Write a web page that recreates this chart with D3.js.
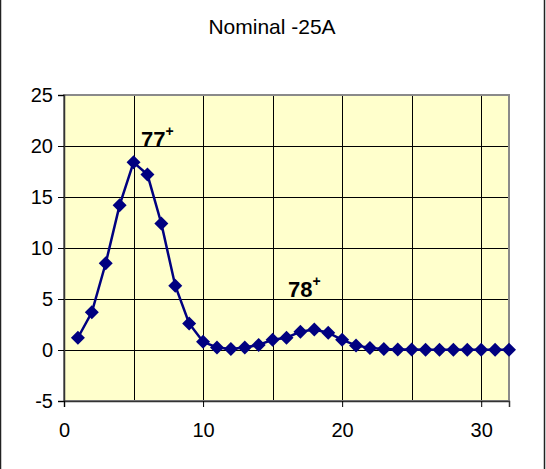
<!DOCTYPE html>
<html>
<head>
<meta charset="utf-8">
<script src="https://cdn.jsdelivr.net/npm/d3@7/dist/d3.min.js"></script>
<style>
  html, body { margin: 0; padding: 0; background: #fff; }
  svg { display: block; font-family: Arial, "Liberation Sans", sans-serif; }
</style>
</head>
<body>
<svg id="chart" width="546" height="469"></svg>
<script>
// Charge-state distribution at nominal -25A
const chargeStates = [1, 2, 3, 4, 5, 6, 7, 8, 9, 10, 11, 12, 13, 14, 15, 16,
                      17, 18, 19, 20, 21, 22, 23, 24, 25, 26, 27, 28, 29, 30, 31, 32];
const yields = [1.2, 3.7, 8.5, 14.2, 18.4, 17.2, 12.4, 6.3, 2.6, 0.8, 0.25, 0.1, 0.25, 0.5, 1.0, 1.2,
                1.8, 2.0, 1.7, 1.0, 0.45, 0.2, 0.1, 0.05, 0.05, 0.03, 0.03, 0.03, 0.03, 0.03, 0.03, 0.03];
const xTicks = [0, 10, 20, 30];
const yTicks = [-5, 0, 5, 10, 15, 20, 25];
const xGrid = [5, 10, 15, 20, 25, 30];
const peakLabels = ["77", "78"];
const titleText = "Nominal -25A";

const svg = d3.select("#chart");
const W = 546, H = 469;
const plot = { left: 64, top: 95, right: 509, bottom: 401 };

// outer chart frame (top/bottom run off the canvas)
svg.append("rect")
  .attr("x", 0.5).attr("y", -5)
  .attr("width", 544).attr("height", H + 10)
  .attr("fill", "#fff").attr("stroke", "#222").attr("stroke-width", 1.5);

const x = d3.scaleLinear().domain([0, 32]).range([plot.left, plot.right]);
const y = d3.scaleLinear().domain([-5, 25]).range([plot.bottom, plot.top]);

// title
svg.append("text")
  .attr("x", 272).attr("y", 34)
  .attr("text-anchor", "middle")
  .attr("font-size", 21)
  .attr("fill", "#000")
  .text(titleText);

// plot area background
svg.append("rect")
  .attr("x", plot.left).attr("y", plot.top)
  .attr("width", plot.right - plot.left).attr("height", plot.bottom - plot.top)
  .attr("fill", "#FFFFCC");

// gridlines
svg.append("g").selectAll("line").data(yTicks.filter(d => d > -5 && d < 25)).join("line")
  .attr("x1", plot.left).attr("x2", plot.right)
  .attr("y1", d => Math.round(y(d)) + 0.5).attr("y2", d => Math.round(y(d)) + 0.5)
  .attr("stroke", "#000").attr("stroke-width", 1);
svg.append("g").selectAll("line").data(xGrid).join("line")
  .attr("y1", plot.top).attr("y2", plot.bottom)
  .attr("x1", d => Math.round(x(d)) + 0.5).attr("x2", d => Math.round(x(d)) + 0.5)
  .attr("stroke", "#000").attr("stroke-width", 1);

// plot area border
svg.append("rect")
  .attr("x", plot.left).attr("y", plot.top)
  .attr("width", plot.right - plot.left).attr("height", plot.bottom - plot.top)
  .attr("fill", "none").attr("stroke", "#8a8a8a").attr("stroke-width", 2);

// axes (plain hyphen for negatives)
const fmt = d => String(d);
const yAxis = d3.axisLeft(y).tickValues(yTicks).tickSize(6).tickPadding(5).tickFormat(fmt);
const xAxis = d3.axisBottom(x).tickValues(xTicks).tickSize(6).tickPadding(16).tickFormat(fmt);

const gy = svg.append("g").attr("transform", `translate(${plot.left},0)`).call(yAxis);
const gx = svg.append("g").attr("transform", `translate(0,${plot.bottom})`).call(xAxis);
[gx, gy].forEach(g => {
  g.select(".domain").attr("stroke", "#333").attr("stroke-width", 1.5);
  g.selectAll(".tick line").attr("stroke", "#000");
  g.selectAll(".tick text").attr("font-size", 20).attr("fill", "#000")
    .attr("font-family", "Arial, 'Liberation Sans', sans-serif");
});

// series line
const navy = "#000080";
const pts = chargeStates.map((c, i) => [c, yields[i]]);
svg.append("path")
  .datum(pts)
  .attr("fill", "none")
  .attr("stroke", navy)
  .attr("stroke-width", 2.5)
  .attr("d", d3.line().x(d => x(d[0])).y(d => y(d[1])));

// diamond markers
const r = 7;
svg.append("g").selectAll("path").data(pts).join("path")
  .attr("transform", d => `translate(${x(d[0])},${y(d[1])})`)
  .attr("d", `M0,${-r}L${r},0L0,${r}L${-r},0Z`)
  .attr("fill", navy);

// charge-state annotations
const labelPos = [[141, 147], [288, 297]];
peakLabels.forEach((lab, i) => {
  const t = svg.append("text")
    .attr("x", labelPos[i][0]).attr("y", labelPos[i][1])
    .attr("font-size", 22).attr("font-weight", "bold").attr("fill", "#000");
  t.append("tspan").text(lab);
  t.append("tspan").attr("font-size", 14).attr("dy", -11).text("+");
});
</script>
</body>
</html>
